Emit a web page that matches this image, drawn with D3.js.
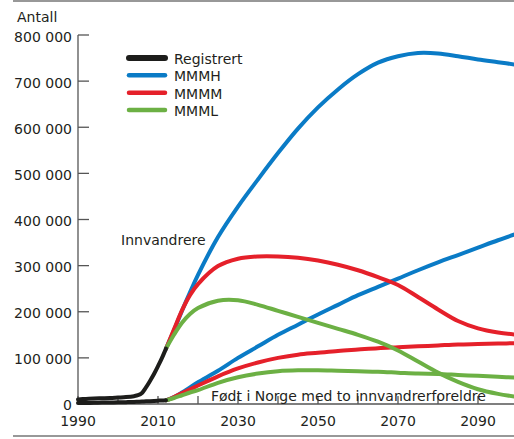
<!DOCTYPE html>
<html>
<head>
<meta charset="utf-8">
<script src="https://cdn.jsdelivr.net/npm/d3@7"></script>
<style>
  body { margin: 0; background: #fff; }
  text { font-family: "DejaVu Sans", sans-serif; fill: #231f20; }
</style>
</head>
<body>
<div id="container"></div>
<script>
// values in thousands
const regYears = [1990, 1992, 1994, 1996, 1998, 2000, 2002, 2004, 2005, 2006, 2007, 2008, 2009, 2010, 2011, 2012];
const regInnv  = [10, 11, 12, 12.5, 13, 14, 15, 17, 19, 24, 36, 50, 65, 82, 100, 120];
const regFodt  = [2, 2.3, 2.6, 3, 3.3, 3.6, 4, 4.5, 5, 5.4, 5.8, 6.2, 6.7, 7.2, 7.6, 8];

const projYears = [2012, 2014, 2016, 2018, 2020, 2025, 2030, 2035, 2040, 2045, 2050, 2055, 2060, 2065, 2070, 2075, 2080, 2085, 2090, 2095, 2100];
const innvMMMH = [120, 160, 202, 242, 280, 362, 428, 487, 544, 597, 643, 682, 715, 740, 754, 761, 760, 754, 747, 741, 735];
const innvMMMM = [120, 162, 203, 236, 260, 299, 315, 320, 320, 317, 311, 302, 290, 275, 258, 232, 205, 180, 164, 155, 150];
const innvMMML = [120, 150, 176, 195, 208, 224, 225, 215, 202, 189, 176, 163, 150, 135, 116, 92, 68, 48, 32, 22, 15];
const fodtMMMH = [8, 15, 25, 36, 47, 72, 100, 125, 150, 172, 194, 215, 236, 254, 272, 290, 307, 323, 339, 355, 370];
const fodtMMMM = [8, 15, 24, 32, 40, 60, 77, 90, 100, 107, 111, 115, 118, 121, 123, 125, 127, 129, 130, 131, 132];
const fodtMMML = [8, 13, 19, 25, 30, 46, 58, 66, 71, 73, 73, 72, 71, 70, 68, 66, 65, 63, 61, 59, 57];

const yTicks = [0, 100, 200, 300, 400, 500, 600, 700, 800];
const xTicks = [1990, 2000, 2010, 2020, 2030, 2040, 2050, 2060, 2070, 2080, 2090];
const xLabels = [1990, 2010, 2030, 2050, 2070, 2090];

const legendNames = ['Registrert', 'MMMH', 'MMMM', 'MMML'];
const colors = { Registrert: '#1d1d1b', MMMH: '#0a7bc6', MMMM: '#e5202a', MMML: '#6cb044' };

const W = 514, H = 439;
const svg = d3.select('#container').append('svg')
  .attr('width', W)
  .attr('height', H);

const x = d3.scaleLinear().domain([1990, 2100]).range([78, 518]);
const y = d3.scaleLinear().domain([0, 800]).range([404, 35]);

// top and bottom rules
svg.append('line').attr('x1', 13).attr('x2', W).attr('y1', 1).attr('y2', 1)
  .attr('stroke', '#333').attr('stroke-width', 1.2);
svg.append('line').attr('x1', 13).attr('x2', W).attr('y1', 436).attr('y2', 436)
  .attr('stroke', '#333').attr('stroke-width', 1.2);

svg.append('text')
  .attr('x', 17).attr('y', 22)
  .style('font-size', '14px')
  .text('Antall');

// y axis
const yAxis = svg.append('g');
yAxis.append('line')
  .attr('x1', x(1990)).attr('x2', x(1990))
  .attr('y1', y(800)).attr('y2', y(0))
  .attr('stroke', '#555').attr('stroke-width', 1.3);
yAxis.selectAll('.ytick').data(yTicks).enter().append('line')
  .attr('x1', x(1990)).attr('x2', x(1990) + 11)
  .attr('y1', d => y(d)).attr('y2', d => y(d))
  .attr('stroke', '#555').attr('stroke-width', 1.3);
yAxis.selectAll('.ylab').data(yTicks).enter().append('text')
  .attr('x', 72).attr('y', d => d === 0 ? y(d) + 5.5 : y(d) + 6.5)
  .attr('text-anchor', 'end')
  .style('font-size', '14px')
  .text(d => d === 0 ? '0' : d3.format(',')(d * 1000).replace(/,/g, ' '));

// x axis
const xAxis = svg.append('g');
xAxis.append('line')
  .attr('x1', x(1990)).attr('x2', W)
  .attr('y1', y(0)).attr('y2', y(0))
  .attr('stroke', '#555').attr('stroke-width', 1.3);
xAxis.selectAll('.xtick').data(xTicks).enter().append('line')
  .attr('x1', d => x(d)).attr('x2', d => x(d))
  .attr('y1', y(0)).attr('y2', y(0) - 8)
  .attr('stroke', '#555').attr('stroke-width', 1.3);
xAxis.selectAll('.xlab').data(xLabels).enter().append('text')
  .attr('x', d => x(d)).attr('y', 426)
  .attr('text-anchor', 'middle')
  .style('font-size', '14px')
  .text(d => d);

const line = d3.line()
  .x(d => x(d[0]))
  .y(d => y(d[1]))
  .curve(d3.curveCatmullRom.alpha(0.5));

const series = [
  { name: 'MMMH', years: projYears, vals: fodtMMMH },
  { name: 'MMMM', years: projYears, vals: fodtMMMM },
  { name: 'MMML', years: projYears, vals: fodtMMML },
  { name: 'MMMH', years: projYears, vals: innvMMMH },
  { name: 'MMMM', years: projYears, vals: innvMMMM },
  { name: 'MMML', years: projYears, vals: innvMMML },
  { name: 'Registrert', years: regYears, vals: regFodt },
  { name: 'Registrert', years: regYears, vals: regInnv }
];

svg.append('defs').append('clipPath').attr('id', 'plot')
  .append('rect').attr('x', 0).attr('y', 0).attr('width', W).attr('height', H);

svg.append('g').attr('clip-path', 'url(#plot)')
  .selectAll('path').data(series).enter().append('path')
  .attr('d', s => line(s.years.map((yr, i) => [yr, s.vals[i]])))
  .attr('fill', 'none')
  .attr('stroke', s => colors[s.name])
  .attr('stroke-width', 4)
  .attr('stroke-linecap', 'round');

// labels
svg.append('text')
  .attr('x', 121).attr('y', 245)
  .style('font-size', '14px')
  .text('Innvandrere');
svg.append('text')
  .attr('x', 211).attr('y', 401)
  .style('font-size', '14px')
  .text('Født i Norge med to innvandrerforeldre');

// legend
const legend = svg.append('g');
const ly = d3.scalePoint().domain(legendNames).range([58, 110]);
legend.selectAll('line').data(legendNames).enter().append('line')
  .attr('x1', 129).attr('x2', 165)
  .attr('y1', d => ly(d)).attr('y2', d => ly(d))
  .attr('stroke', d => colors[d])
  .attr('stroke-width', d => d === 'Registrert' ? 6 : 4.5)
  .attr('stroke-linecap', 'round');
legend.selectAll('text').data(legendNames).enter().append('text')
  .attr('x', 174).attr('y', d => ly(d) + 6)
  .style('font-size', '14px')
  .text(d => d);
</script>
</body>
</html>
